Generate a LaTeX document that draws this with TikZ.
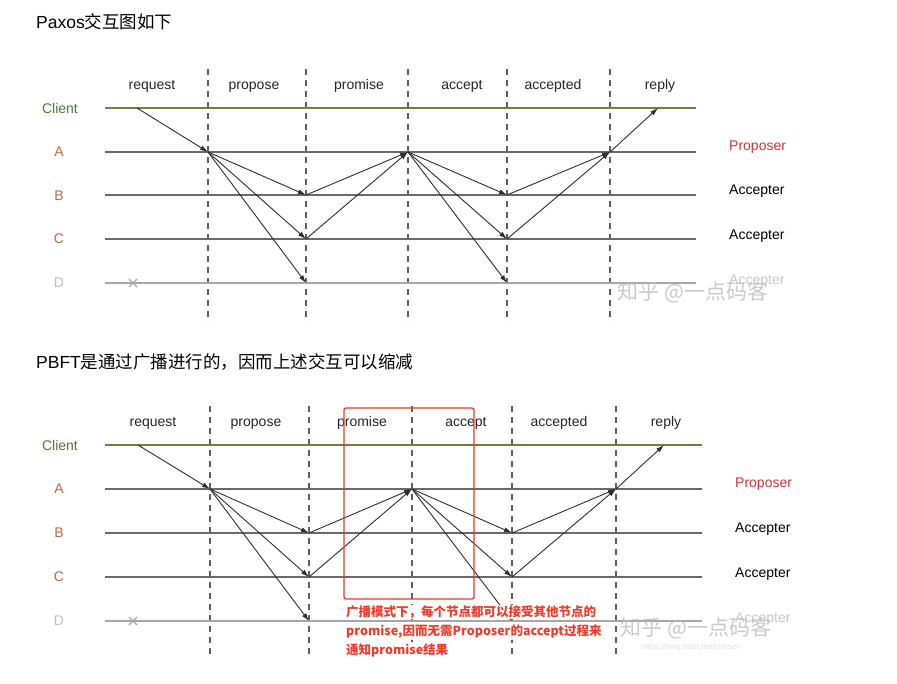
\documentclass[tikz,border=0pt]{standalone}
\usepackage{fontspec}
\setmainfont{Liberation Sans}
\newfontfamily\cjk{Noto Sans CJK SC}
\usetikzlibrary{arrows.meta}
\definecolor{clientc}{HTML}{8C7048}
\definecolor{clientlbl}{HTML}{4E7A34}
\definecolor{letc}{HTML}{C4673F}
\definecolor{lanec}{HTML}{6A6A6A}
\definecolor{lanedc}{HTML}{A8A8A8}
\definecolor{msgc}{HTML}{2E2E2E}
\definecolor{dashc}{HTML}{606060}
\definecolor{propc}{HTML}{D0343A}
\definecolor{redc}{HTML}{EE3B2B}
\begin{document}
\begin{tikzpicture}[x=1pt,y=-1pt,
  lane/.style={line width=1.4pt,draw=lanec},
  laned/.style={line width=1.4pt,draw=lanedc},
  clientln/.style={line width=1.5pt,draw=clientc},
  phasesep/.style={line width=1.2pt,draw=dashc,dash pattern=on 6pt off 5pt},
  msg/.style={draw=msgc,line width=0.9pt,-{Latex[length=8pt,width=5pt]}},
  phase/.style={font=\fontsize{14}{16}\selectfont,text=black!85,inner sep=0pt,anchor=base},
  lbl/.style={font=\fontsize{14}{16}\selectfont,inner sep=0pt},
  rlbl/.style={font=\fontsize{14}{16}\selectfont,inner sep=0pt,anchor=west},
  title/.style={font=\fontsize{17.5}{19}\selectfont,inner sep=0pt,anchor=west},
  note/.style={font=\cjk\bfseries\fontsize{12.5}{14}\selectfont,text=redc,inner sep=1pt,anchor=west,fill=white,fill opacity=0.9,text opacity=1},
  wmark/.style={font=\cjk\fontsize{21}{24}\selectfont,text=gray!55,opacity=0.75,inner sep=0pt}
]
\useasboundingbox (0,0) rectangle (897,683);
\fill[white] (0,0) rectangle (897,683);

% ================= TOP: Paxos =================
\node[title] (t1) at (36,22) {Paxos{\cjk 交互图如下}};

\foreach \x/\n in {208/1,306/2,408/3,507/4,610/5}
  \draw[phasesep] (\x,69) -- (\x,322);

\node[phase] (p1) at (152,89) {request};
\node[phase] (p2) at (254,89) {propose};
\node[phase] (p3) at (359,89) {promise};
\node[phase] (p4) at (462,89) {accept};
\node[phase] (p5) at (553,89) {accepted};
\node[phase] (p6) at (660,89) {reply};

\draw[clientln] (105,108) -- (696,108);
\draw[lane] (105,152) -- (696,152);
\draw[lane] (105,195) -- (696,195);
\draw[lane] (105,239) -- (696,239);
\draw[laned] (105,283) -- (696,283);

\node[lbl,text=clientlbl] (lc) at (60,108) {Client};
\node[lbl,text=letc] (la) at (59,152) {A};
\node[lbl,text=letc] (lb) at (59,196) {B};
\node[lbl,text=letc] (lcc) at (59,239) {C};
\node[lbl,text=gray!50] (ld) at (59,283) {D};
\draw[gray!70,line width=1.1pt] (129,279) -- (137,287) (137,279) -- (129,287);

\node[rlbl,text=propc] (rp) at (729,147) {Proposer};
\node[rlbl] (ra1) at (729,191) {Accepter};
\node[rlbl] (ra2) at (729,236) {Accepter};
\node[rlbl,text=gray!45] (ra3) at (729,281) {Accepter};

\coordinate (c0) at (137,108);
\coordinate (a1) at (208,152);
\coordinate (b1) at (306,195);
\coordinate (cc1) at (306,239);
\coordinate (d1) at (306,283);
\coordinate (a2) at (408,152);
\coordinate (b2) at (507,195);
\coordinate (cc2) at (507,239);
\coordinate (d2) at (507,283);
\coordinate (a3) at (610,152);
\coordinate (c1) at (658,108);

\draw[msg] (c0) -- (a1);
\draw[msg] (a1) -- (b1);
\draw[msg] (a1) -- (cc1);
\draw[msg] (a1) -- (d1);
\draw[msg] (b1) -- (a2);
\draw[msg] (cc1) -- (a2);
\draw[msg] (a2) -- (b2);
\draw[msg] (a2) -- (cc2);
\draw[msg] (a2) -- (d2);
\draw[msg] (b2) -- (a3);
\draw[msg] (cc2) -- (a3);
\draw[msg] (a3) -- (c1);

\node[wmark] (w1) at (693,292) {知乎 @一点码客};

% ================= BOTTOM: PBFT =================
\node[title] (t2) at (36,362) {PBFT{\cjk 是通过广播进行的，因而上述交互可以缩减}};

\foreach \x in {210,309,412,512,616}
  \draw[phasesep] (\x,406) -- (\x,657);

\node[phase] (q1) at (153,426) {request};
\node[phase] (q2) at (256,426) {propose};
\node[phase] (q3) at (362,426) {promise};
\node[phase] (q4) at (466,426) {accept};
\node[phase] (q5) at (559,426) {accepted};
\node[phase] (q6) at (666,426) {reply};

\draw[clientln] (105,445) -- (702,445);
\draw[lane] (105,489) -- (702,489);
\draw[lane] (105,533) -- (702,533);
\draw[lane] (105,577) -- (702,577);
\draw[laned] (105,621) -- (702,621);

\node[lbl,text=clientlbl] (mc) at (60,445) {Client};
\node[lbl,text=letc] (ma) at (59,489) {A};
\node[lbl,text=letc] (mb) at (59,533) {B};
\node[lbl,text=letc] (mcc) at (59,577) {C};
\node[lbl,text=gray!50] (md) at (59,621) {D};
\draw[gray!70,line width=1.1pt] (129,617) -- (137,625) (137,617) -- (129,625);

\node[rlbl,text=propc] (sp) at (735,484) {Proposer};
\node[rlbl] (sa1) at (735,529) {Accepter};
\node[rlbl] (sa2) at (735,574) {Accepter};
\node[rlbl,text=gray!45] (sa3) at (735,619) {Accepter};

\coordinate (e0) at (138,445);
\coordinate (f1) at (210,489);
\coordinate (g1) at (309,533);
\coordinate (h1) at (309,577);
\coordinate (k1) at (309,621);
\coordinate (f2) at (412,489);
\coordinate (g2) at (512,533);
\coordinate (h2) at (512,577);
\coordinate (k2) at (512,621);
\coordinate (f3) at (616,489);
\coordinate (e1) at (664,445);

\draw[msg] (e0) -- (f1);
\draw[msg] (f1) -- (g1);
\draw[msg] (f1) -- (h1);
\draw[msg] (f1) -- (k1);
\draw[msg] (g1) -- (f2);
\draw[msg] (h1) -- (f2);
\draw[msg] (f2) -- (g2);
\draw[msg] (f2) -- (h2);
\draw[msg] (f2) -- (k2);
\draw[msg] (g2) -- (f3);
\draw[msg] (h2) -- (f3);
\draw[msg] (f3) -- (e1);

\draw[redc,line width=1.3pt,rounded corners=2pt] (344,408) rectangle (474,599);

\node[note] (n1) at (345,612) {广播模式下，每个节点都可以接受其他节点的};
\node[note] (n2) at (345,632) {promise,因而无需Proposer的accept过程来};
\node[note] (n3) at (345,650) {通知promise结果};

\node[wmark] (w2) at (696,628) {知乎 @一点码客};
\node[font=\fontsize{8}{9}\selectfont,text=gray!25,inner sep=0pt] (url) at (691,647) {https://blog.csdn.net/chosen};
\end{tikzpicture}
\end{document}
